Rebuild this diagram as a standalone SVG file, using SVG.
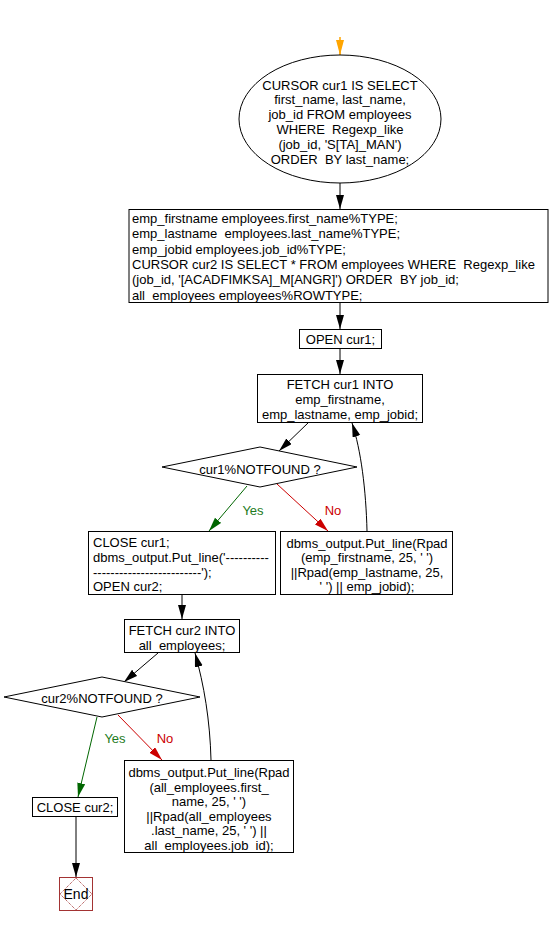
<svg xmlns="http://www.w3.org/2000/svg" width="550" height="926" viewBox="0 0 550 926">
<defs>
<style>
text{font-family:"Liberation Sans",Arial,sans-serif;font-size:13px;fill:#000;white-space:pre}
.c{text-anchor:middle}
.shape{fill:#fff;stroke:#000;stroke-width:1}
.edge{fill:none;stroke:#000;stroke-width:1}
.yes{stroke:#006600}
.no{stroke:#CC0000}
.start{stroke:#FFA500;stroke-width:1.5}
.ylbl{fill:#1E7B1E}
.nlbl{fill:#CC0000}
</style>
<marker id="ah" markerUnits="userSpaceOnUse" markerWidth="15" markerHeight="10" refX="14" refY="4" orient="auto">
<path d="M0,0 L14,4 L0,8 Z" fill="#000"/>
</marker>
<marker id="ahg" markerUnits="userSpaceOnUse" markerWidth="15" markerHeight="10" refX="14" refY="4" orient="auto">
<path d="M0,0 L14,4 L0,8 Z" fill="#006600"/>
</marker>
<marker id="ahr" markerUnits="userSpaceOnUse" markerWidth="15" markerHeight="10" refX="14" refY="4" orient="auto">
<path d="M0,0 L14,4 L0,8 Z" fill="#CC0000"/>
</marker>
<marker id="aho" markerUnits="userSpaceOnUse" markerWidth="16" markerHeight="10" refX="15" refY="4" orient="auto">
<path d="M0,0 L15,4 L0,8 Z" fill="#FFA500"/>
</marker>
</defs>
<rect width="550" height="926" fill="#fff"/>

<g id="connectors">
<path class="edge start" d="M340,37 L340,55" marker-end="url(#aho)"/>
<path class="edge" d="M340,183 L340,209" marker-end="url(#ah)"/>
<path class="edge" d="M340,303 L340,329" marker-end="url(#ah)"/>
<path class="edge" d="M340,349 L340,374" marker-end="url(#ah)"/>
<path class="edge" d="M309,422 L279,451" marker-end="url(#ah)"/>
<path class="edge yes" d="M247,486 L209,531" marker-end="url(#ahg)"/>
<path class="edge no" d="M277,484 L328,531" marker-end="url(#ahr)"/>
<path class="edge" d="M367,531 C366,490 361,450 352,423" marker-end="url(#ah)"/>
<path class="edge" d="M182,594 L182,619" marker-end="url(#ah)"/>
<path class="edge" d="M158,653 L124,682" marker-end="url(#ah)"/>
<path class="edge yes" d="M97,717 L78,797" marker-end="url(#ahg)"/>
<path class="edge no" d="M118,715 L162,760" marker-end="url(#ahr)"/>
<path class="edge" d="M211,760 C210,720 204,685 195,653" marker-end="url(#ah)"/>
<path class="edge" d="M76,816 L76,877" marker-end="url(#ah)"/>
<text class="c ylbl" x="253" y="515">Yes</text>
<text class="c nlbl" x="333" y="515">No</text>
<text class="c ylbl" x="115" y="743">Yes</text>
<text class="c nlbl" x="165" y="743">No</text>
</g>

<g id="cursor1">
<ellipse class="shape" cx="340" cy="119" rx="101" ry="64"/>
<text class="c" x="340" y="89.5">CURSOR cur1 IS SELECT</text>
<text class="c" x="340" y="104.3">first_name, last_name,</text>
<text class="c" x="340" y="119.1">job_id FROM employees</text>
<text class="c" x="340" y="133.9">WHERE  Regexp_like</text>
<text class="c" x="340" y="148.7">(job_id, 'S[TA]_MAN')</text>
<text class="c" x="340" y="163.5">ORDER  BY last_name;</text>
</g>

<g id="declare">
<rect class="shape" x="129" y="209.5" width="419" height="93"/>
<text x="132" y="223">emp_firstname employees.first_name%TYPE;</text>
<text x="132" y="238.3">emp_lastname  employees.last_name%TYPE;</text>
<text x="132" y="253.6">emp_jobid employees.job_id%TYPE;</text>
<text x="132" y="268.9">CURSOR cur2 IS SELECT * FROM employees WHERE  Regexp_like</text>
<text x="132" y="284.2">(job_id, '[ACADFIMKSA]_M[ANGR]') ORDER  BY job_id;</text>
<text x="132" y="299.5">all_employees employees%ROWTYPE;</text>
</g>

<g id="open1">
<rect class="shape" x="299.5" y="329.5" width="82" height="19"/>
<text class="c" x="340.5" y="343.5">OPEN cur1;</text>
</g>

<g id="fetch1">
<rect class="shape" x="257.5" y="374.5" width="165" height="48"/>
<text class="c" x="340" y="389">FETCH cur1 INTO</text>
<text class="c" x="340" y="404">emp_firstname,</text>
<text class="c" x="340" y="418.5">emp_lastname, emp_jobid;</text>
</g>

<g id="notfound1">
<polygon class="shape" points="260,447 357,467 260,487 162,467"/>
<text class="c" x="260" y="473.5">cur1%NOTFOUND ?</text>
</g>

<g id="close1">
<rect class="shape" x="88.5" y="531.5" width="187" height="63"/>
<text x="93" y="547">CLOSE cur1;</text>
<text x="93" y="562">dbms_output.Put_line('----------</text>
<text x="93" y="576.5">-------------------------');</text>
<text x="93" y="591">OPEN cur2;</text>
</g>

<g id="print1">
<rect class="shape" x="280.5" y="531.5" width="172" height="63"/>
<text class="c" x="367" y="547.5">dbms_output.Put_line(Rpad</text>
<text class="c" x="367" y="562">(emp_firstname, 25, ' ')</text>
<text class="c" x="367" y="576.5">||Rpad(emp_lastname, 25,</text>
<text class="c" x="367" y="591">' ') || emp_jobid);</text>
</g>

<g id="fetch2">
<rect class="shape" x="124.5" y="619.5" width="115" height="33"/>
<text class="c" x="182" y="634.5">FETCH cur2 INTO</text>
<text class="c" x="182" y="649.5">all_employees;</text>
</g>

<g id="notfound2">
<polygon class="shape" points="102,677 200,697 102,717 4,697"/>
<text class="c" x="102" y="702.5">cur2%NOTFOUND ?</text>
</g>

<g id="close2">
<rect class="shape" x="32.5" y="797.5" width="85" height="19"/>
<text class="c" x="75" y="812">CLOSE cur2;</text>
</g>

<g id="print2">
<rect class="shape" x="124.5" y="760.5" width="169" height="92"/>
<text class="c" x="209" y="777">dbms_output.Put_line(Rpad</text>
<text class="c" x="209" y="791.5">(all_employees.first_</text>
<text class="c" x="209" y="806">name, 25, ' ')</text>
<text class="c" x="209" y="820.5">||Rpad(all_employees</text>
<text class="c" x="209" y="835">.last_name, 25, ' ') ||</text>
<text class="c" x="209" y="849.5">all_employees.job_id);</text>
</g>

<g id="end">
<rect x="59.5" y="877.5" width="33" height="33" fill="#fff" stroke="#A33333" stroke-width="1"/>
<polygon points="76,878 92,894 76,910 60,894" fill="none" stroke="#A33333" stroke-width="1" stroke-dasharray="1,1"/>
<text class="c" x="76" y="899" style="font-size:14px">End</text>
</g>
</svg>
